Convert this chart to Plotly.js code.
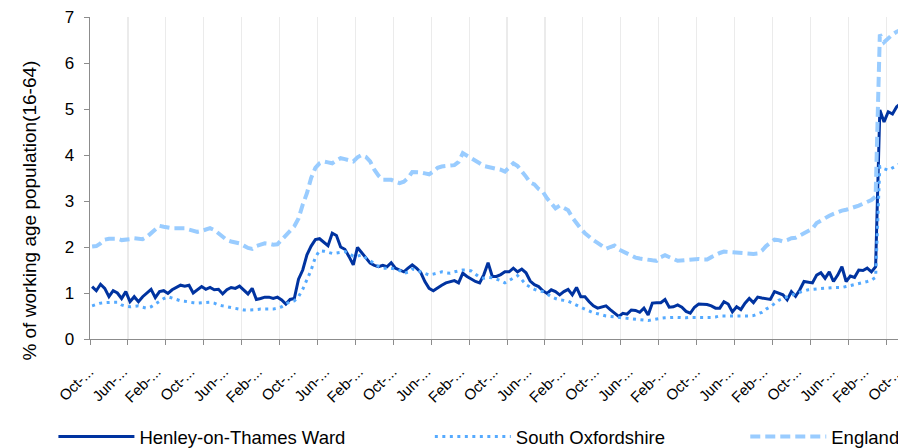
<!DOCTYPE html>
<html>
<head>
<meta charset="utf-8">
<script src="https://cdn.plot.ly/plotly-3.0.1.min.js"></script>
<style>
  html, body { margin: 0; padding: 0; overflow: hidden; background: #fff; }
  #chart { width: 904px; height: 448px; }
</style>
</head>
<body>
<div id="chart"></div>
<script>
// Monthly categories, Oct-04 .. Oct-20 (193 months)
const monthNames = ['Jan','Feb','Mar','Apr','May','Jun','Jul','Aug','Sep','Oct','Nov','Dec'];
const startYear = 2004, startMonth = 9, monthCount = 193;
const categories = [];
for (let k = 0; k < monthCount; k++) {
  const m = (startMonth + k) % 12;
  const y = startYear + Math.floor((startMonth + k) / 12);
  categories.push(monthNames[m] + '-' + String(y % 100).padStart(2, '0'));
}

// Truncated tick labels as shown (one every 8 months)
const tickLabels = ['Oct-...','Jun-...','Feb-...','Oct-...','Jun-...','Feb-...','Oct-...','Jun-...','Feb-...',
  'Oct-...','Jun-...','Feb-...','Oct-...','Jun-...','Feb-...','Oct-...','Jun-...','Feb-...',
  'Oct-...','Jun-...','Feb-...','Oct-...','Jun-...','Feb-...','Oct-...'];
const labelEvery = 8;
const gridEvery = 9;

const henley = [
  1.14,1.05,1.19,1.10,0.92,1.05,1.00,0.88,1.03,0.81,
  0.92,0.81,0.92,0.99,1.08,0.90,1.03,1.05,0.99,1.07,
  1.12,1.17,1.15,1.17,1.00,1.08,1.14,1.08,1.12,1.07,
  1.08,0.98,1.07,1.12,1.10,1.15,1.07,0.98,1.10,0.86,
  0.88,0.91,0.91,0.88,0.91,0.85,0.76,0.86,0.88,1.30,
  1.50,1.83,2.02,2.16,2.18,2.10,2.03,2.30,2.25,2.00,
  1.95,1.79,1.61,1.99,1.88,1.78,1.65,1.60,1.57,1.60,
  1.57,1.66,1.54,1.50,1.46,1.54,1.61,1.54,1.45,1.25,
  1.10,1.05,1.12,1.17,1.22,1.25,1.27,1.22,1.43,1.36,
  1.30,1.25,1.22,1.40,1.66,1.36,1.36,1.40,1.46,1.46,
  1.54,1.46,1.52,1.44,1.26,1.18,1.14,1.05,0.99,1.07,
  1.03,0.96,1.03,1.08,0.96,1.12,0.92,0.92,0.81,0.72,
  0.67,0.70,0.72,0.64,0.56,0.49,0.56,0.54,0.63,0.62,
  0.58,0.67,0.52,0.78,0.79,0.79,0.86,0.69,0.70,0.74,
  0.69,0.60,0.56,0.69,0.76,0.76,0.75,0.72,0.67,0.67,
  0.81,0.76,0.59,0.70,0.64,0.78,0.88,0.79,0.91,0.89,
  0.88,0.86,1.03,0.99,0.96,0.85,1.03,0.93,1.07,1.25,
  1.24,1.22,1.39,1.44,1.32,1.46,1.25,1.39,1.57,1.25,
  1.37,1.34,1.50,1.49,1.54,1.46,1.57,4.98,4.72,4.94,
  4.89,5.05,5.12
];

const southOxfordshire = [
  0.72,0.75,0.78,0.79,0.80,0.80,0.80,0.74,0.71,0.70,
  0.71,0.72,0.69,0.67,0.70,0.76,0.81,0.88,0.92,0.89,
  0.86,0.83,0.82,0.80,0.79,0.78,0.79,0.80,0.80,0.78,
  0.74,0.72,0.70,0.69,0.67,0.65,0.63,0.63,0.63,0.64,
  0.65,0.65,0.65,0.65,0.67,0.70,0.76,0.81,0.83,0.92,
  1.08,1.28,1.50,1.78,1.92,1.91,1.89,1.86,1.87,1.88,
  1.90,1.86,1.80,1.80,1.83,1.76,1.70,1.63,1.58,1.54,
  1.54,1.54,1.52,1.49,1.43,1.45,1.52,1.50,1.46,1.42,
  1.39,1.41,1.44,1.46,1.44,1.43,1.46,1.48,1.50,1.50,
  1.48,1.41,1.34,1.32,1.34,1.33,1.30,1.27,1.22,1.27,
  1.32,1.38,1.29,1.18,1.13,1.08,1.05,1.03,0.98,0.92,
  0.88,0.85,0.84,0.82,0.78,0.73,0.69,0.65,0.61,0.57,
  0.55,0.52,0.50,0.49,0.48,0.47,0.46,0.45,0.45,0.44,
  0.42,0.41,0.40,0.42,0.44,0.45,0.46,0.47,0.47,0.47,
  0.46,0.46,0.47,0.47,0.47,0.46,0.46,0.47,0.48,0.50,
  0.50,0.50,0.50,0.49,0.50,0.50,0.50,0.51,0.54,0.58,
  0.65,0.70,0.77,0.84,0.88,0.91,0.95,0.99,1.02,1.05,
  1.07,1.08,1.09,1.10,1.11,1.12,1.12,1.12,1.12,1.14,
  1.16,1.19,1.21,1.22,1.25,1.28,1.34,3.75,3.70,3.67,
  3.72,3.78,3.82
];

const england = [
  2.01,2.02,2.08,2.16,2.18,2.19,2.18,2.15,2.15,2.17,
  2.19,2.18,2.17,2.22,2.30,2.39,2.46,2.44,2.42,2.41,
  2.41,2.41,2.41,2.38,2.35,2.33,2.35,2.38,2.41,2.37,
  2.30,2.22,2.15,2.12,2.10,2.08,2.03,1.98,1.96,2.02,
  2.05,2.08,2.07,2.05,2.06,2.15,2.24,2.35,2.45,2.62,
  2.92,3.17,3.50,3.72,3.82,3.86,3.84,3.82,3.88,3.93,
  3.91,3.89,3.86,3.95,4.00,3.96,3.86,3.68,3.55,3.46,
  3.46,3.46,3.42,3.39,3.42,3.50,3.63,3.63,3.62,3.60,
  3.58,3.64,3.72,3.75,3.77,3.77,3.78,3.85,4.04,3.99,
  3.94,3.88,3.82,3.76,3.74,3.72,3.71,3.68,3.64,3.72,
  3.82,3.76,3.66,3.53,3.40,3.36,3.26,3.20,3.06,2.94,
  2.84,2.90,2.86,2.80,2.64,2.51,2.40,2.30,2.22,2.15,
  2.09,2.02,1.96,2.00,2.03,1.95,1.90,1.86,1.80,1.77,
  1.75,1.73,1.72,1.71,1.70,1.78,1.82,1.77,1.74,1.70,
  1.71,1.72,1.73,1.75,1.74,1.73,1.73,1.78,1.83,1.87,
  1.90,1.89,1.88,1.88,1.87,1.86,1.85,1.85,1.86,1.92,
  2.02,2.08,2.16,2.15,2.12,2.15,2.19,2.20,2.25,2.28,
  2.33,2.40,2.52,2.58,2.63,2.68,2.72,2.76,2.79,2.81,
  2.83,2.87,2.90,2.94,2.97,3.02,3.10,6.62,6.45,6.55,
  6.62,6.68,6.72
];

const seriesNames = ['Henley-on-Thames Ward', 'South Oxfordshire', 'England'];
const yTitle = '% of working age population(16-64)';

const tickVals = categories.filter((c, k) => k % labelEvery === 0);
const monthIndex = categories.map((c, k) => k);

const FONT = 'Liberation Sans, Arial, Helvetica, sans-serif';

const traces = [
  { x: categories, y: henley, name: seriesNames[0], type: 'scatter', mode: 'lines',
    line: { color: '#0033a0', width: 3 }, legend: 'legend', hoverinfo: 'x+y' },
  { x: categories, y: southOxfordshire, name: seriesNames[1], type: 'scatter', mode: 'lines',
    line: { color: '#55aaff', width: 3, dash: '3px,4.5px' }, legend: 'legend2', hoverinfo: 'x+y' },
  { x: categories, y: england, name: seriesNames[2], type: 'scatter', mode: 'lines',
    line: { color: '#99ccff', width: 4, dash: '10px,5px' }, legend: 'legend3', hoverinfo: 'x+y' },
  // invisible carrier so that the grid / tick-mark axis (every 9 months) is drawn
  { x: monthIndex, y: england, xaxis: 'x2', yaxis: 'y', type: 'scatter', mode: 'lines',
    opacity: 0, showlegend: false, hoverinfo: 'skip', line: { width: 0 } }
];

const legendBase = {
  orientation: 'h', xref: 'paper', yref: 'paper', xanchor: 'left', yanchor: 'middle',
  y: -0.304, bgcolor: 'rgba(0,0,0,0)', itemwidth: 76,
  font: { family: FONT, size: 18.5, color: '#000' }
};

const layout = {
  width: 904, height: 448,
  margin: { l: 90, r: 1, t: 17, b: 109, autoexpand: false },
  paper_bgcolor: '#ffffff', plot_bgcolor: '#ffffff',
  font: { family: FONT, size: 16, color: '#000' },
  showlegend: true,
  xaxis: {
    type: 'category', range: [-0.5, monthCount - 0.5], autorange: false,
    tickmode: 'array', tickvals: tickVals, ticktext: tickLabels,
    tickangle: -45, ticks: '', showgrid: false, showline: false, zeroline: false,
    tickfont: { family: FONT, size: 15, color: '#000' }, ticklabelstandoff: 20,
    ticklabelshift: -3
  },
  xaxis2: {
    overlaying: 'x', anchor: 'y', side: 'bottom', type: 'linear',
    range: [-0.5, monthCount - 0.5], autorange: false,
    tickmode: 'linear', tick0: -0.5, dtick: gridEvery, showticklabels: false,
    ticks: 'outside', ticklen: 5, tickcolor: '#8c8c8c', tickwidth: 1,
    showgrid: true, gridcolor: '#ebebeb', gridwidth: 1.2,
    showline: true, linecolor: '#8c8c8c', linewidth: 1.3, zeroline: false
  },
  yaxis: {
    range: [0, 7], autorange: false, tickmode: 'linear', tick0: 0, dtick: 1,
    ticks: 'outside', ticklen: 5, tickcolor: '#8c8c8c', tickwidth: 1,
    showline: true, linecolor: '#8c8c8c', linewidth: 1.3,
    showgrid: false, zeroline: false,
    tickfont: { family: FONT, size: 17, color: '#000' }, ticklabelstandoff: 6
  },
  legend: Object.assign({}, legendBase, { x: -0.045 }),
  legend2: Object.assign({}, legendBase, { x: 0.418 }),
  legend3: Object.assign({}, legendBase, { x: 0.806 }),
  annotations: [{
    text: yTitle, textangle: -90, xref: 'paper', yref: 'paper',
    x: -0.0755, y: 0.3975, xanchor: 'center', yanchor: 'middle', showarrow: false,
    font: { family: FONT, size: 19, color: '#000' }
  }]
};

Plotly.newPlot('chart', traces, layout, { displayModeBar: false, staticPlot: true });
</script>
</body>
</html>
